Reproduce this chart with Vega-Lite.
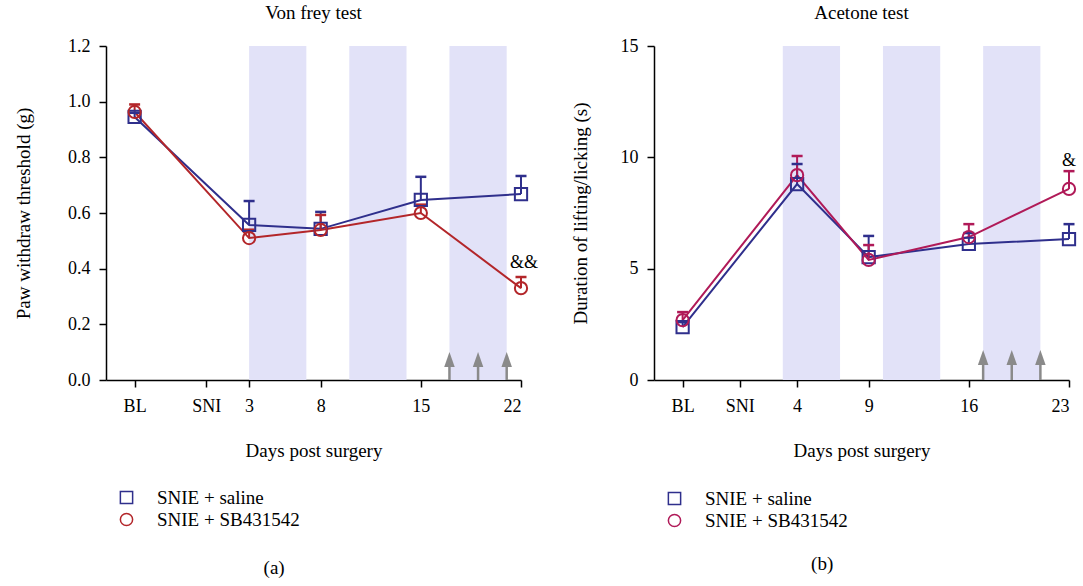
{
  "$schema": "https://vega.github.io/schema/vega-lite/v6.json",
  "background": "white",
  "padding": {"left": 14, "top": 4, "right": 5, "bottom": 5},
  "config": {
    "view": {"stroke": null},
    "font": "Liberation Serif",
    "axis": {
      "labelFont": "Liberation Serif", "labelFontSize": 18, "labelColor": "black",
      "titleFont": "Liberation Serif", "titleFontSize": 19, "titleFontWeight": "normal", "titleColor": "black",
      "domainColor": "black", "domainWidth": 1.5, "tickColor": "black", "tickWidth": 1.5, "tickSize": 7,
      "grid": false, "labelPadding": 8
    },
    "title": {"font": "Liberation Serif", "fontSize": 19, "fontWeight": "normal", "color": "black", "offset": 14},
    "legend": {"labelFont": "Liberation Serif", "labelFontSize": 19, "labelColor": "black", "padding": 0}
  },
  "datasets": {
    "vonfrey": [
      {"day": -5, "group": "SNIE + saline", "mean": 0.945, "upper": 0.96, "sig": null},
      {"day": 3, "group": "SNIE + saline", "mean": 0.557, "upper": 0.643, "sig": null},
      {"day": 8, "group": "SNIE + saline", "mean": 0.543, "upper": 0.604, "sig": null},
      {"day": 15, "group": "SNIE + saline", "mean": 0.647, "upper": 0.73, "sig": null},
      {"day": 22, "group": "SNIE + saline", "mean": 0.668, "upper": 0.733, "sig": null},
      {"day": -5, "group": "SNIE + SB431542", "mean": 0.963, "upper": 0.99, "sig": null},
      {"day": 3, "group": "SNIE + SB431542", "mean": 0.51, "upper": 0.54, "sig": null},
      {"day": 8, "group": "SNIE + SB431542", "mean": 0.539, "upper": 0.593, "sig": null},
      {"day": 15, "group": "SNIE + SB431542", "mean": 0.6, "upper": 0.63, "sig": null},
      {"day": 22, "group": "SNIE + SB431542", "mean": 0.33, "upper": 0.37, "sig": "&&"}
    ],
    "acetone": [
      {"day": -4, "group": "SNIE + saline", "mean": 2.38, "upper": 2.6, "sig": null},
      {"day": 4, "group": "SNIE + saline", "mean": 8.8, "upper": 9.7, "sig": null},
      {"day": 9, "group": "SNIE + saline", "mean": 5.52, "upper": 6.47, "sig": null},
      {"day": 16, "group": "SNIE + saline", "mean": 6.11, "upper": 6.6, "sig": null},
      {"day": 23, "group": "SNIE + saline", "mean": 6.33, "upper": 7.0, "sig": null},
      {"day": -4, "group": "SNIE + SB431542", "mean": 2.69, "upper": 3.05, "sig": null},
      {"day": 4, "group": "SNIE + SB431542", "mean": 9.2, "upper": 10.06, "sig": null},
      {"day": 9, "group": "SNIE + SB431542", "mean": 5.39, "upper": 6.06, "sig": null},
      {"day": 16, "group": "SNIE + SB431542", "mean": 6.42, "upper": 7.0, "sig": null},
      {"day": 23, "group": "SNIE + SB431542", "mean": 8.58, "upper": 9.38, "sig": "&"}
    ],
    "shade": [{"start": 3, "end": 7}, {"start": 10, "end": 14}, {"start": 17, "end": 21}],
    "arrows": [{"day": 17}, {"day": 19}, {"day": 21}]
  },
  "spacing": 32,
  "resolve": {
    "scale": {"color": "independent", "shape": "independent", "x": "independent", "y": "independent"},
    "legend": {"color": "independent", "shape": "independent"}
  },
  "hconcat": [
    {
      "width": 415, "height": 334,
      "title": {"text": "Von frey test"},
      "layer": [
        {
          "data": {"name": "shade"},
          "mark": {"type": "rect", "fill": "#e2e2f8"},
          "encoding": {
            "x": {"field": "start", "type": "quantitative", "title": "Days post surgery",
              "scale": {"domain": [-7, 22], "nice": false, "zero": false},
              "axis": {"values": [-5, 0, 3, 8, 15, 22], "labelExpr": "datum.value == -5 ? 'BL' : datum.value == 0 ? 'SNI' : datum.label", "titlePadding": 26, "labelPadding": 10}},
            "x2": {"field": "end"}
          }
        },
        {
          "data": {"name": "arrows"},
          "mark": {"type": "rule", "color": "#8a8a8a", "strokeWidth": 2.5},
          "encoding": {
            "x": {"field": "day", "type": "quantitative", "title": "Days post surgery"},
            "y": {"datum": 0, "type": "quantitative", "title": "Paw withdraw threshold (g)",
              "scale": {"domain": [0, 1.2], "nice": false},
              "axis": {"values": [0, 0.2, 0.4, 0.6, 0.8, 1.0, 1.2], "format": ".1f", "titlePadding": 34, "labelPadding": 9}},
            "y2": {"datum": 0.065}
          }
        },
        {
          "data": {"name": "arrows"},
          "mark": {"type": "point", "shape": "M0,-1L0.7,1L-0.7,1Z", "filled": true, "color": "#8a8a8a", "opacity": 1, "size": 225},
          "encoding": {
            "x": {"field": "day", "type": "quantitative", "title": "Days post surgery"},
            "y": {"datum": 0.074, "type": "quantitative", "title": "Paw withdraw threshold (g)"}
          }
        },
        {
          "data": {"name": "vonfrey"},
          "mark": {"type": "line", "strokeWidth": 2},
          "encoding": {
            "x": {"field": "day", "type": "quantitative", "title": "Days post surgery"},
            "y": {"field": "mean", "type": "quantitative", "title": "Paw withdraw threshold (g)"},
            "color": {"field": "group", "type": "nominal",
              "scale": {"domain": ["SNIE + saline", "SNIE + SB431542"], "range": ["#2f2f8c", "#b3262a"]},
              "legend": {"title": null, "orient": "none", "legendX": 11, "legendY": 442,
                "symbolSize": 150, "symbolStrokeWidth": 1.5, "symbolOpacity": 1, "labelOffset": 21, "rowPadding": 2}}
          }
        },
        {
          "data": {"name": "vonfrey"},
          "mark": {"type": "rule", "strokeWidth": 2},
          "encoding": {
            "x": {"field": "day", "type": "quantitative", "title": "Days post surgery"},
            "y": {"field": "mean", "type": "quantitative", "title": "Paw withdraw threshold (g)"},
            "y2": {"field": "upper"},
            "color": {"field": "group", "type": "nominal"}
          }
        },
        {
          "data": {"name": "vonfrey"},
          "mark": {"type": "point", "shape": "M-1,0H1", "filled": false, "strokeWidth": 2.5, "opacity": 1, "size": 121},
          "encoding": {
            "x": {"field": "day", "type": "quantitative", "title": "Days post surgery"},
            "y": {"field": "upper", "type": "quantitative", "title": "Paw withdraw threshold (g)"},
            "color": {"field": "group", "type": "nominal"}
          }
        },
        {
          "data": {"name": "vonfrey"},
          "mark": {"type": "point", "filled": false, "strokeWidth": 2, "opacity": 1, "size": 150},
          "encoding": {
            "x": {"field": "day", "type": "quantitative", "title": "Days post surgery"},
            "y": {"field": "mean", "type": "quantitative", "title": "Paw withdraw threshold (g)"},
            "color": {"field": "group", "type": "nominal"},
            "shape": {"field": "group", "type": "nominal", "legend": null,
              "scale": {"domain": ["SNIE + saline", "SNIE + SB431542"], "range": ["square", "circle"]}}
          }
        },
        {
          "data": {"name": "vonfrey"},
          "transform": [{"filter": "datum.sig != null"}],
          "mark": {"type": "text", "fontSize": 18, "color": "black", "dx": 3, "dy": -9, "baseline": "alphabetic"},
          "encoding": {
            "x": {"field": "day", "type": "quantitative", "title": "Days post surgery"},
            "y": {"field": "upper", "type": "quantitative", "title": "Paw withdraw threshold (g)"},
            "text": {"field": "sig"}
          }
        },
        {
          "data": {"values": [{"label": "(a)"}]},
          "mark": {"type": "text", "fontSize": 19, "color": "black"},
          "encoding": {
            "x": {"datum": 4.75, "type": "quantitative"},
            "y": {"datum": -0.675, "type": "quantitative"},
            "text": {"field": "label"}
          }
        }
      ]
    },
    {
      "width": 415, "height": 334,
      "title": {"text": "Acetone test"},
      "layer": [
        {
          "data": {"name": "shade"},
          "mark": {"type": "rect", "fill": "#e2e2f8"},
          "encoding": {
            "x": {"field": "start", "type": "quantitative", "title": "Days post surgery",
              "scale": {"domain": [-6, 23], "nice": false, "zero": false},
              "axis": {"values": [-4, 0, 4, 9, 16, 23], "labelExpr": "datum.value == -4 ? 'BL' : datum.value == 0 ? 'SNI' : datum.label", "titlePadding": 26, "labelPadding": 10}},
            "x2": {"field": "end"}
          }
        },
        {
          "data": {"name": "arrows"},
          "mark": {"type": "rule", "color": "#8a8a8a", "strokeWidth": 2.5},
          "encoding": {
            "x": {"field": "day", "type": "quantitative", "title": "Days post surgery"},
            "y": {"datum": 0, "type": "quantitative", "title": "Duration of lifting/licking (s)",
              "scale": {"domain": [0, 15], "nice": false},
              "axis": {"values": [0, 5, 10, 15], "titlePadding": 30, "labelPadding": 9}},
            "y2": {"datum": 0.85}
          }
        },
        {
          "data": {"name": "arrows"},
          "mark": {"type": "point", "shape": "M0,-1L0.7,1L-0.7,1Z", "filled": true, "color": "#8a8a8a", "opacity": 1, "size": 225},
          "encoding": {
            "x": {"field": "day", "type": "quantitative", "title": "Days post surgery"},
            "y": {"datum": 1.01, "type": "quantitative", "title": "Duration of lifting/licking (s)"}
          }
        },
        {
          "data": {"name": "acetone"},
          "mark": {"type": "line", "strokeWidth": 2},
          "encoding": {
            "x": {"field": "day", "type": "quantitative", "title": "Days post surgery"},
            "y": {"field": "mean", "type": "quantitative", "title": "Duration of lifting/licking (s)"},
            "color": {"field": "group", "type": "nominal",
              "scale": {"domain": ["SNIE + saline", "SNIE + SB431542"], "range": ["#2f2f8c", "#b01a58"]},
              "legend": {"title": null, "orient": "none", "legendX": 11, "legendY": 443,
                "symbolSize": 150, "symbolStrokeWidth": 1.5, "symbolOpacity": 1, "labelOffset": 21, "rowPadding": 2}}
          }
        },
        {
          "data": {"name": "acetone"},
          "mark": {"type": "rule", "strokeWidth": 2},
          "encoding": {
            "x": {"field": "day", "type": "quantitative", "title": "Days post surgery"},
            "y": {"field": "mean", "type": "quantitative", "title": "Duration of lifting/licking (s)"},
            "y2": {"field": "upper"},
            "color": {"field": "group", "type": "nominal"}
          }
        },
        {
          "data": {"name": "acetone"},
          "mark": {"type": "point", "shape": "M-1,0H1", "filled": false, "strokeWidth": 2.5, "opacity": 1, "size": 121},
          "encoding": {
            "x": {"field": "day", "type": "quantitative", "title": "Days post surgery"},
            "y": {"field": "upper", "type": "quantitative", "title": "Duration of lifting/licking (s)"},
            "color": {"field": "group", "type": "nominal"}
          }
        },
        {
          "data": {"name": "acetone"},
          "mark": {"type": "point", "filled": false, "strokeWidth": 2, "opacity": 1, "size": 150},
          "encoding": {
            "x": {"field": "day", "type": "quantitative", "title": "Days post surgery"},
            "y": {"field": "mean", "type": "quantitative", "title": "Duration of lifting/licking (s)"},
            "color": {"field": "group", "type": "nominal"},
            "shape": {"field": "group", "type": "nominal", "legend": null,
              "scale": {"domain": ["SNIE + saline", "SNIE + SB431542"], "range": ["square", "circle"]}}
          }
        },
        {
          "data": {"name": "acetone"},
          "transform": [{"filter": "datum.sig != null"}],
          "mark": {"type": "text", "fontSize": 18, "color": "black", "dx": 0, "dy": -5, "baseline": "alphabetic"},
          "encoding": {
            "x": {"field": "day", "type": "quantitative", "title": "Days post surgery"},
            "y": {"field": "upper", "type": "quantitative", "title": "Duration of lifting/licking (s)"},
            "text": {"field": "sig"}
          }
        },
        {
          "data": {"values": [{"label": "(b)"}]},
          "mark": {"type": "text", "fontSize": 19, "color": "black"},
          "encoding": {
            "x": {"datum": 5.75, "type": "quantitative"},
            "y": {"datum": -8.26, "type": "quantitative"},
            "text": {"field": "label"}
          }
        }
      ]
    }
  ]
}
